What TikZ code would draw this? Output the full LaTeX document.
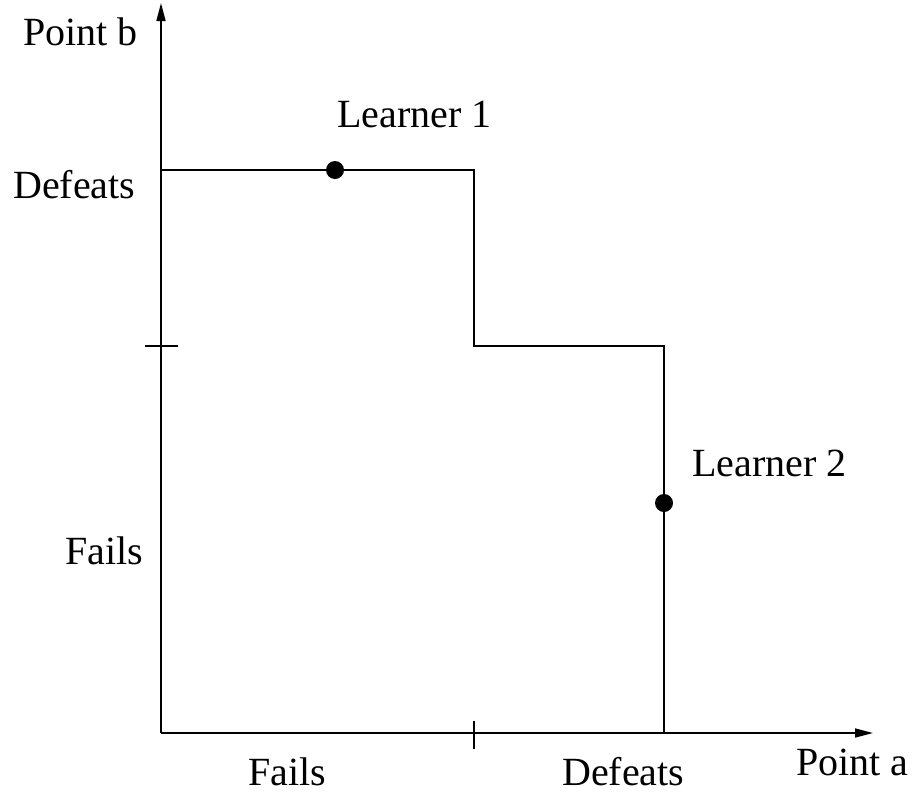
\documentclass[tikz,border=0pt]{standalone}
\usepackage{fontspec}
\setmainfont{Liberation Serif}
\usetikzlibrary{arrows.meta}
\begin{document}
\begin{tikzpicture}[x=1pt,y=-1pt,
  axis/.style={line width=1.6pt,-{Triangle[length=18pt,width=9pt]}},
  curve/.style={line width=1.6pt},
  tickmark/.style={line width=1.6pt},
  lbl/.style={anchor=base west,inner sep=0pt,font=\fontsize{40}{44}\selectfont},
  dot/.style={circle,fill=black,inner sep=0pt,minimum size=18pt}]
\useasboundingbox (0,0) rectangle (915,793);
% axes
\coordinate (O) at (161,733);
\coordinate (ytop) at (161,3);
\coordinate (xend) at (873,733);
\draw[axis] (O) -- (ytop);
\draw[axis] (O) -- (xend);
% tick marks
\coordinate (xt1) at (474,721);
\coordinate (xt2) at (474,749);
\coordinate (yt1) at (145,346);
\coordinate (yt2) at (178,346);
\draw[tickmark] (xt1) -- (xt2);
\draw[tickmark] (yt1) -- (yt2);
% decision boundary
\coordinate (s0) at (161,170);
\coordinate (s1) at (474,170);
\coordinate (s2) at (474,346);
\coordinate (s3) at (664,346);
\coordinate (s4) at (664,733);
\draw[curve] (s0) -- (s1) -- (s2) -- (s3) -- (s4);
% learners
\node[dot] (l1) at (335,170) {};
\node[dot] (l2) at (664,503) {};
% labels
\node[lbl] (pb) at (23,45) {Point b};
\node[lbl] (pa) at (796,775) {Point a};
\node[lbl] (ln1) at (337,127) {Learner 1};
\node[lbl] (ln2) at (692,476) {Learner 2};
\node[lbl] (yd) at (13,198) {Defeats};
\node[lbl] (yf) at (65,564) {Fails};
\node[lbl] (xf) at (248,785) {Fails};
\node[lbl] (xd) at (562,785) {Defeats};
\end{tikzpicture}
\end{document}
